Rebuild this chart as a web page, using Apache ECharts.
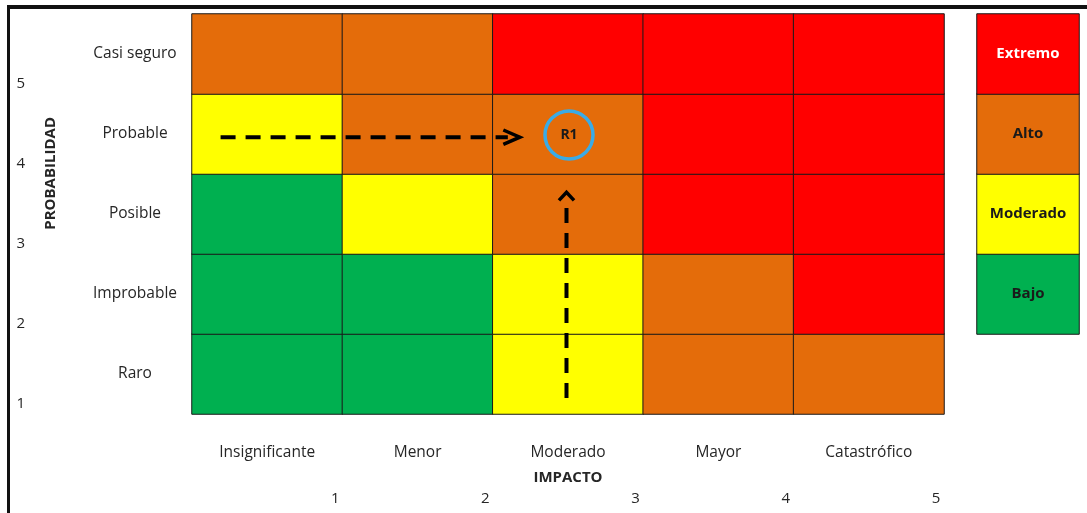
<!DOCTYPE html>
<html>
<head>
<meta charset="utf-8">
<script src="https://cdn.jsdelivr.net/npm/echarts@6/dist/echarts.min.js"></script>
<style>
  html, body { margin: 0; padding: 0; background: #fff; }
  #chart { width: 1087px; height: 513px; }
</style>
</head>
<body>
<div id="chart"></div>
<script>
// Risk matrix: impact (columns) x probability (rows)
const impactCats = ['Insignificante', 'Menor', 'Moderado', 'Mayor', 'Catastrófico'];
const probCats = ['Raro', 'Improbable', 'Posible', 'Probable', 'Casi seguro'];
const scaleTicks = [1, 2, 3, 4, 5];

// Risk levels, lowest to highest
const levels = ['Bajo', 'Moderado', 'Alto', 'Extremo'];
const levelColors = ['#00B050', '#FFFF00', '#E46C0A', '#FF0000'];
const levelTextColors = ['#1a1a1a', '#1a1a1a', '#1a1a1a', '#ffffff'];

// Level index per cell; one row per probability, from Raro up to Casi seguro
const riskMatrix = [
  [0, 0, 1, 2, 2], // Raro
  [0, 0, 1, 2, 3], // Improbable
  [0, 1, 2, 3, 3], // Posible
  [1, 2, 2, 3, 3], // Probable
  [2, 2, 3, 3, 3]  // Casi seguro
];

// Assessed risk
const riskPoint = { name: 'R1', impact: 'Moderado', prob: 'Probable' };

// Movement arrows in matrix units (0..5 on both axes)
const arrowImpactShaft = [[0.19, 3.46], [2.1, 3.46]];
const arrowImpactHead = [[2.07, 3.55], [2.18, 3.46], [2.07, 3.37]];
const arrowProbShaft = [[2.49, 0.2], [2.49, 2.6]];
const arrowProbHead = [[2.44, 2.67], [2.49, 2.77], [2.54, 2.67]];

const FONT = '"Open Sans", "Noto Sans", sans-serif';
const TEXT = '#262626';

const cells = [];
riskMatrix.forEach((row, y) => row.forEach((lvl, x) => cells.push([x, y, lvl])));
const legendCells = levels.map((name, i) => ({
  value: [0, i, i],
  label: { color: levelTextColors[i] }
}));

const chart = echarts.init(document.getElementById('chart'), null, { renderer: 'canvas' });

function arrowLine(data, dashed) {
  return {
    type: 'line', xAxisIndex: 1, yAxisIndex: 1, data,
    showSymbol: false, silent: true, animation: false, z: 5,
    lineStyle: { color: '#000', width: dashed ? 4 : 3.5, type: dashed ? [15, 10] : 'solid', cap: 'butt', join: 'miter', opacity: 1 }
  };
}

chart.setOption({
  backgroundColor: '#ffffff',
  animation: false,
  textStyle: { fontFamily: FONT },
  grid: [
    { left: 192, top: 14, width: 752, height: 400 },   // matrix
    { left: 977, top: 14, width: 102, height: 320 },   // level key
    { left: 30, top: 84, width: 10, height: 400 },     // probability numbers
    { left: 185, top: 14, width: 751, height: 400 }    // impact numbers
  ],
  xAxis: [
    { type: 'category', gridIndex: 0, data: impactCats,
      axisLine: { show: false }, axisTick: { show: false }, splitLine: { show: false },
      axisLabel: { margin: 39, verticalAlign: 'middle', fontSize: 15.5, color: TEXT, fontFamily: FONT },
      name: 'IMPACTO', nameLocation: 'middle', nameGap: 56,
      nameTextStyle: { fontWeight: 'bold', fontSize: 15, color: TEXT, fontFamily: FONT } },
    { type: 'value', gridIndex: 0, min: 0, max: 5, show: false },
    { type: 'category', gridIndex: 1, data: [''], show: false },
    { type: 'value', gridIndex: 2, show: false },
    { type: 'value', gridIndex: 3, min: 0, max: 5, interval: 1,
      axisLine: { show: false }, axisTick: { show: false }, splitLine: { show: false },
      axisLabel: { margin: 85, verticalAlign: 'middle', showMinLabel: false, fontSize: 15, color: TEXT, fontFamily: FONT,
        formatter: v => (scaleTicks.indexOf(v) >= 0 ? String(v) : '') } }
  ],
  yAxis: [
    { type: 'category', gridIndex: 0, data: probCats,
      axisLine: { show: false }, axisTick: { show: false }, splitLine: { show: false },
      axisLabel: { margin: 57, align: 'center', verticalAlign: 'middle', lineHeight: 18, padding: [8, 0, 0, 0],
        fontSize: 15.5, color: TEXT, fontFamily: FONT } },
    { type: 'value', gridIndex: 0, min: 0, max: 5, show: false },
    { type: 'category', gridIndex: 1, data: levels, show: false },
    { type: 'value', gridIndex: 2, min: 0, max: 5, interval: 1,
      axisLine: { show: false }, axisTick: { show: false }, splitLine: { show: false },
      axisLabel: { margin: 5, align: 'right', showMinLabel: false, fontSize: 15, color: TEXT, fontFamily: FONT,
        formatter: v => (scaleTicks.indexOf(v) >= 0 ? String(v) : '') } },
    { type: 'value', gridIndex: 3, show: false }
  ],
  visualMap: {
    show: false, type: 'piecewise', dimension: 2, seriesIndex: [0, 1],
    pieces: levels.map((name, i) => ({ value: i, color: levelColors[i] }))
  },
  graphic: [
    { type: 'line', shape: { x1: 8.5, y1: 5, x2: 8.5, y2: 513 }, style: { stroke: '#111', lineWidth: 3 }, z: 100 },
    { type: 'line', shape: { x1: 7, y1: 7, x2: 1087, y2: 7 }, style: { stroke: '#111', lineWidth: 4 }, z: 100 },
    { type: 'text', left: 43, top: 117, rotation: Math.PI / 2,
      style: { text: 'PROBABILIDAD', fontWeight: 'bold', fontSize: 15, fill: TEXT, fontFamily: FONT } }
  ],
  series: [
    { type: 'heatmap', xAxisIndex: 0, yAxisIndex: 0, data: cells, silent: true,
      itemStyle: { borderColor: '#1a1a1a', borderWidth: 1 },
      label: { show: false }, emphasis: { disabled: true } },
    { type: 'heatmap', xAxisIndex: 2, yAxisIndex: 2, data: legendCells, silent: true,
      itemStyle: { borderColor: '#1a1a1a', borderWidth: 1 },
      label: { show: true, fontWeight: 'bold', fontSize: 15, fontFamily: FONT, padding: [8, 0, 0, 0],
        formatter: p => levels[p.value[2]] },
      emphasis: { disabled: true } },
    arrowLine(arrowImpactShaft, true),
    arrowLine(arrowImpactHead, false),
    arrowLine(arrowProbShaft, true),
    arrowLine(arrowProbHead, false),
    { type: 'scatter', xAxisIndex: 0, yAxisIndex: 0, silent: true, z: 6,
      data: [[riskPoint.impact, riskPoint.prob]],
      symbol: 'circle', symbolSize: 48, symbolOffset: [1, 1],
      itemStyle: { color: 'rgba(0,0,0,0)', borderColor: '#3AABE6', borderWidth: 3.5, opacity: 1 },
      label: { show: true, position: 'inside', formatter: riskPoint.name, fontWeight: 'bold', fontSize: 14, color: '#1a1a1a', fontFamily: FONT } }
  ]
});
</script>
</body>
</html>
